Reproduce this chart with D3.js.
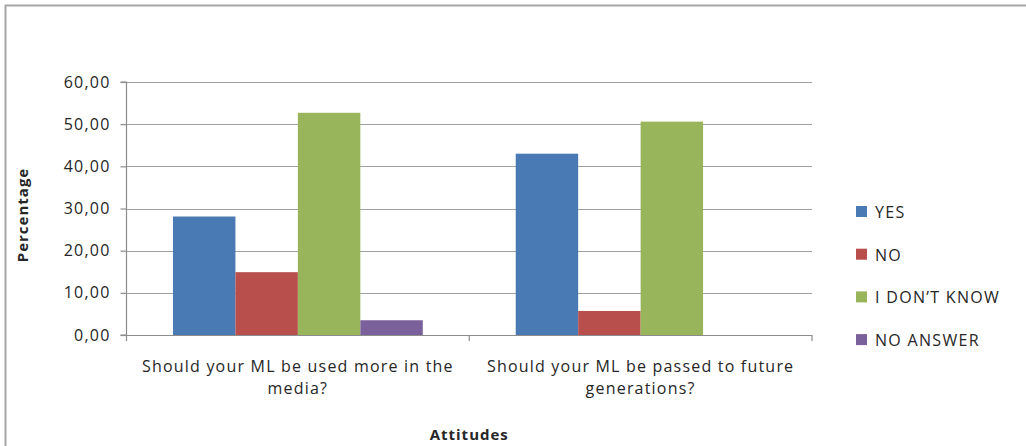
<!DOCTYPE html>
<html><head><meta charset="utf-8">
<script src="https://cdn.jsdelivr.net/npm/d3@7"></script>
<style>
html,body{margin:0;padding:0;background:#fff;}
text{font-family:"Open Sans",sans-serif;fill:#262626;}
</style></head>
<body>
<svg id="c" width="1026" height="446"></svg>
<script>
const categories = ["Should your ML be used more in the media?", "Should your ML be passed to future generations?"];
const categoryLines = [["Should your ML be used more in the", "media?"], ["Should your ML be passed to future", "generations?"]];
const seriesNames = ["YES", "NO", "I DON\u2019T KNOW", "NO ANSWER"];
const seriesColors = ["#4a7ab3", "#b94f4d", "#99b55b", "#7a619b"];
const yesValues = [28.1, 43.0];
const noValues = [14.9, 5.7];
const dontKnowValues = [52.7, 50.6];
const noAnswerValues = [3.5, 0];
const yTicks = [0, 10, 20, 30, 40, 50, 60];
const yLabel = "Percentage";
const xLabel = "Attitudes";

(function () {
const series = [yesValues, noValues, dontKnowValues, noAnswerValues];
const svg = d3.select("#c");

svg.append("path").attr("d", "M5.5,446 V5.5 H1030").attr("fill", "none").attr("stroke", "#a6a6a6").attr("stroke-width", 2);

const pL = 126.5, pR = 812, pT = 82, pB = 335;
const x0 = d3.scaleBand().domain(d3.range(categories.length)).range([pL, pR]).paddingInner(0).paddingOuter(0);
const x1 = d3.scaleBand().domain(d3.range(series.length)).range([0, x0.bandwidth()]).paddingInner(0).paddingOuter(0.744);
const y = d3.scaleLinear().domain([0, 60]).range([pB, pT]);

svg.append("g").selectAll("line").data(yTicks.slice(1)).join("line")
  .attr("x1", pL).attr("x2", pR).attr("y1", d => Math.round(y(d)) + 0.5).attr("y2", d => Math.round(y(d)) + 0.5)
  .attr("stroke", "#a0a0a0").attr("stroke-width", 1.2);

const g = svg.append("g");
series.forEach((vals, si) => {
  g.selectAll(null).data(vals).join("rect")
    .attr("x", (d, ci) => x0(ci) + x1(si))
    .attr("width", x1.bandwidth())
    .attr("y", d => y(d))
    .attr("height", d => y(0) - y(d))
    .attr("fill", seriesColors[si]);
});

const yAxis = d3.axisLeft(y).tickValues(yTicks).tickSize(6).tickPadding(10)
  .tickFormat(d => d3.format(".2f")(d).replace(".", ","));
const ya = svg.append("g").attr("transform", `translate(${pL},0)`).call(yAxis);
ya.selectAll("path,line").attr("stroke", "#8c8c8c").attr("stroke-width", 1.2);
ya.select(".domain").attr("d", `M-6,${pB}H0V${pT}H-6`);
ya.selectAll("text").style("font-family", "'Open Sans',sans-serif").style("font-size", "16px")
  .style("letter-spacing", "1.2px").attr("fill", "#262626");

const xa = svg.append("g").attr("transform", `translate(0,${pB})`);
xa.append("line").attr("x1", pL).attr("x2", pR).attr("y1", 0.5).attr("y2", 0.5).attr("stroke", "#8c8c8c").attr("stroke-width", 1.2);
const bounds = [pL, ...d3.range(categories.length).map(i => x0(i) + x0.bandwidth())];
xa.selectAll(".tk").data(bounds).join("line").attr("class", "tk")
  .attr("x1", d => d).attr("x2", d => d).attr("y1", 0).attr("y2", 6).attr("stroke", "#8c8c8c").attr("stroke-width", 1.2);

categoryLines.forEach((lines, ci) => {
  const cx = x0(ci) + x0.bandwidth() / 2;
  lines.forEach((ln, li) => {
    svg.append("text").attr("x", cx).attr("y", 372 + li * 22).attr("text-anchor", "middle")
      .style("font-size", "16px").style("letter-spacing", "1.2px").text(ln);
  });
});

svg.append("text").attr("x", (pL + pR) / 2).attr("y", 440).attr("text-anchor", "middle")
  .style("font-size", "15px").style("font-weight", "bold").style("letter-spacing", "1px").text(xLabel);
svg.append("text").attr("transform", "translate(28,215) rotate(-90)").attr("text-anchor", "middle")
  .style("font-size", "15px").style("font-weight", "bold").style("letter-spacing", "1px").text(yLabel);

const lg = svg.append("g");
seriesNames.forEach((n, i) => {
  const cy = 212 + i * 42.7;
  lg.append("rect").attr("x", 856).attr("y", cy - 6).attr("width", 11).attr("height", 11).attr("fill", seriesColors[i]);
  lg.append("text").attr("x", 875).attr("y", cy + 6).style("font-size", "16px").style("letter-spacing", "1.3px").text(n);
});
})();
</script>
</body></html>
